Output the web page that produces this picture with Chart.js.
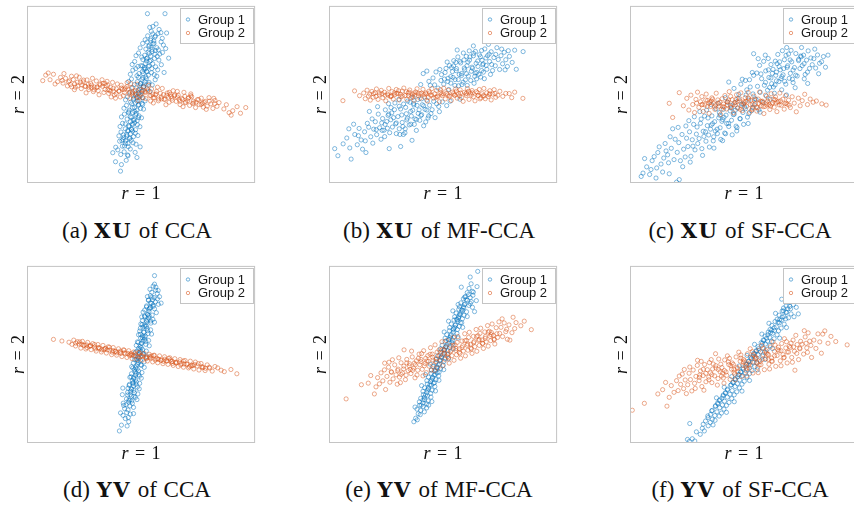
<!DOCTYPE html>
<html>
<head>
<meta charset="utf-8">
<script src="https://cdn.jsdelivr.net/npm/chart.js@4.4.1/dist/chart.umd.min.js"></script>
<style>
  html, body { margin: 0; padding: 0; background: #fff; }
  body { width: 854px; height: 506px; position: relative; overflow: hidden; }
  canvas { position: absolute; }
  .cap { position: absolute; transform: translateX(-50%); white-space: nowrap;
         font: 23px "Liberation Serif", "Times New Roman", serif; line-height: 22px; color: #111; word-spacing: 1px; }
  .cap b { font-family: "DejaVu Serif", serif; font-size: 21px; letter-spacing: 1.5px; }
</style>
</head>
<body>
<canvas id="c0" width="251" height="204"></canvas>
<canvas id="c1" width="251" height="204"></canvas>
<canvas id="c2" width="251" height="204"></canvas>
<canvas id="c3" width="251" height="204"></canvas>
<canvas id="c4" width="251" height="204"></canvas>
<canvas id="c5" width="251" height="204"></canvas>
<script>
// values, in percent of each panel's box (x left->right, y bottom->top)
const groupLabels = ["Group 1", "Group 2"];
const captions = [
  ["(a) ", "XU", " of CCA"], ["(b) ", "XU", " of MF-CCA"], ["(c) ", "XU", " of SF-CCA"],
  ["(d) ", "YV", " of CCA"], ["(e) ", "YV", " of MF-CCA"], ["(f) ", "YV", " of SF-CCA"],
];

const xuCcaG1 = [[55.2,88.4],[57.9,86.7],[53.8,87.9],[56.6,89.8],[58.7,84.9],[54.5,85.6],
  [52.9,83.1],[56.1,82.4],[59.3,81.7],[54.2,80.6],[57.4,84.3],[51.8,80.9],[58.8,79.7],[55.6,80.2],
  [50.7,78.8],[53.4,77.1],[56.9,76.4],[59.8,77.9],[52.1,75.6],[55.3,78.5],[57.6,75.2],[54.4,76.7],[49.6,76.3],[60.8,75.9],
  [48.9,73.4],[51.6,72.1],[54.8,74.2],[57.1,71.5],[59.4,73.7],[52.7,70.6],[55.9,70.3],[50.3,71.1],[58.2,72.8],[53.6,73.1],[56.3,74.8],[47.8,71.9],
  [47.2,68.6],[49.9,66.2],[52.4,68.9],[55.1,67.3],[57.8,69.4],[50.8,69.7],[53.7,66.1],[56.4,65.6],[46.1,66.9],[58.9,66.8],[51.5,65.2],[54.3,69.2],[48.6,65.8],
  [46.4,63.7],[49.1,61.8],[51.9,64.4],[54.6,62.3],[57.3,63.9],[48.2,60.6],[50.6,62.9],[53.2,60.9],[55.8,61.2],[45.3,61.4],[52.5,63.1],[56.9,60.3],[47.7,64.6],
  [45.8,58.7],[48.4,57.2],[50.9,59.4],[53.5,56.8],[56.2,58.3],[47.1,55.6],[49.7,56.1],[52.3,58.9],[54.9,55.4],[44.6,57.3],[51.4,55.9],
  [46.3,53.8],[48.8,52.4],[51.2,54.6],[53.9,51.7],[45.2,51.3],[47.6,50.8],[50.1,51.9],[52.6,53.2],[49.4,54.9],
  [44.1,48.7],[46.7,47.3],[49.2,49.1],[51.8,46.4],[45.4,45.6],[48.3,46.2],[50.6,48.2],[47.5,49.7],[43.2,46.9],
  [43.6,43.8],[46.2,42.6],[48.9,44.3],[51.1,41.7],[44.8,41.1],[47.3,40.4],[49.8,42.1],[42.5,42.2],[45.9,44.7],[50.4,44.9],
  [42.7,38.9],[45.3,37.4],[47.9,39.3],[50.2,36.8],[43.9,36.1],[46.6,35.5],[49.1,37.9],[41.4,37.3],[44.5,39.6],[48.3,35.2],
  [41.9,33.7],[44.6,32.4],[47.2,34.1],[49.5,31.8],[43.1,30.6],[45.8,30.2],[48.4,32.9],[40.8,31.9],[46.1,33.3],
  [41.2,28.8],[43.7,27.5],[46.3,29.2],[48.6,26.8],[42.4,25.7],[45.1,25.3],[47.5,28.1],[40.3,26.6],[44.2,29.7],
  [40.6,23.6],[43.2,22.4],[45.7,24.1],[47.8,21.9],[41.8,20.8],[44.4,20.5],[42.1,24.6],[46.5,22.7],
  [39.8,18.7],[42.6,17.6],[45.3,19.2],[41.1,16.1],[44.1,15.8],[47.4,17.3],[38.9,20.2],
  [52.8,95.6],[60.5,95.6],[38.8,12],[41.4,10.4],[41,6.7],[44.3,15.4],[48.2,14.4],[37.6,17.1],[61.2,84.7],[62.1,70.5],[43.5,12.8],[49.6,20.4],[60.1,62.4]];
const xuCcaG1Core = [[55.1,84.2],[54.3,81.5],[55.7,78.9],[53.6,77.8],[54.9,75.4],[53.1,73.9],[54.2,71.6],[52.4,70.2],[53.8,68.7],[51.9,67.4],[53.2,65.9],[51.3,64.3],[52.6,62.8],[50.9,61.7],[52.1,59.9],[50.4,58.6],[51.7,57.2],[49.8,56.1],[51.1,54.3],[49.3,53.2],[50.6,51.7],[48.8,50.6],[49.9,49.3],[48.1,48.1],[49.4,46.7],[47.6,45.2],[48.8,43.9],[47.1,42.6],[48.2,41.2],[46.4,39.8],[47.7,38.5],[45.9,37.1],[47.1,35.8],[45.3,34.6],[46.5,33.1],[44.8,31.8],[45.9,30.4],[44.2,29.2],[45.4,27.8],[43.7,26.5],[44.9,25.1],[43.2,23.8],[44.3,22.3],[42.7,20.9],[56.3,83.1],[52.7,79.6],[56.1,72.8],[50.6,66.1],[54.7,64.6],[48.9,59.7],[53.4,55.8],[46.8,47.9],[50.7,44.3],[44.6,40.2],[48.9,36.9],[43.1,33.4],[47.6,30.1],[42.3,27.2],[46.7,26.2],[41.6,23.9]];
const xuCcaG2 = [[8.2,60.9],[10.1,58.3],[11.6,61.4],[13.4,57.2],[14.7,59.6],[12.3,55.9],
  [15.8,56.4],[16.9,59.1],[17.7,54.8],[18.6,57.7],[19.5,60.3],[16.2,61.8],[19.1,55.6],
  [20.3,58.4],[21.2,54.1],[22.1,56.9],[22.9,59.7],[23.8,53.3],[24.6,57.1],[21.7,60.5],[24.1,55.4],[20.8,52.7],
  [25.4,54.6],[26.3,58.2],[27.1,52.8],[27.9,56.3],[28.7,59.1],[29.5,54.2],[26.8,55.7],[29.1,51.6],[25.9,50.9],[28.2,53.9],
  [30.4,57.6],[31.2,52.2],[32.1,55.4],[32.9,58.3],[33.7,51.1],[34.6,54.9],[31.6,49.8],[30.8,54.3],[33.3,56.2],[34.2,52.8],[35.1,57.4],
  [35.8,50.6],[36.7,54.1],[37.5,56.8],[38.3,49.7],[39.2,53.2],[36.1,52.4],[37.9,51.7],[39.6,55.9],[38.8,47.9],[36.9,48.6],[35.4,55.3],
  [40.4,51.8],[41.3,55.2],[42.2,49.3],[43.1,53.6],[43.9,56.7],[44.7,50.4],[41.8,52.9],[40.9,48.6],[42.7,51.1],[44.3,53.1],[45.1,47.8],
  [45.8,53.7],[46.6,49.1],[47.5,52.4],[48.3,55.8],[49.1,48.2],[46.2,51.3],[47.9,50.2],[49.6,52.9],[48.7,46.5],[45.5,56.1],
  [50.4,50.7],[51.2,54.3],[52.1,47.6],[52.9,51.8],[53.8,49.4],[54.6,53.1],[50.9,48.2],[51.7,51.6],[53.3,55.2],[54.2,46.3],[55.1,50.2],
  [55.9,48.1],[56.8,51.7],[57.6,46.4],[58.5,50.6],[59.3,53.4],[56.3,49.8],[57.2,54.1],[58.9,47.5],[59.8,49.9],[55.4,45.2],
  [60.6,47.3],[61.5,50.8],[62.3,45.6],[63.2,48.9],[64.1,52.1],[60.9,44.2],[62.8,50.1],[63.7,46.7],[64.6,49.2],[61.9,48.4],
  [65.4,46.1],[66.3,49.6],[67.1,44.3],[67.9,47.8],[68.8,51.2],[69.6,45.7],[66.7,47.2],[68.4,43.1],[65.9,51.7],[69.2,48.9],
  [70.4,46.4],[71.3,43.8],[72.2,48.7],[73.1,45.2],[73.9,42.6],[74.7,47.1],[71.8,50.3],[72.6,44.9],[70.9,48.2],
  [75.5,44.3],[76.4,47.9],[77.3,42.8],[78.1,46.1],[79.0,43.4],[79.8,48.2],[76.9,45.1],[78.6,41.6],
  [80.6,44.7],[81.5,42.1],[82.4,46.6],[83.3,43.3],[84.2,45.4],[81.9,47.8],
  [86.3,41.8],[87.4,44.2],[88.6,39.7],[90.2,40.8],[92.1,43.1],[93.6,39.4],[95.9,42.6],[89.5,38.3],[6.9,57.8],[9.3,62.1]];
const xuCcaG2Core = [[15.4,57.9],[18.2,57.1],[20.9,55.9],[23.4,56.8],[25.7,54.6],[28.3,55.3],[30.6,53.8],[33.1,54.6],[35.5,52.7],[37.8,53.5],[40.2,51.9],[42.6,52.7],[44.9,51.1],[47.3,51.8],[49.6,50.2],[51.9,51.1],[54.3,49.4],[56.6,50.3],[58.9,48.6],[61.3,49.5],[63.6,47.9],[65.9,48.6],[68.2,47.1],[70.6,47.8],[72.9,46.2],[75.2,47.1],[77.6,45.5],[79.9,46.2],[82.3,44.8],[19.6,54.3],[24.8,58.1],[29.4,52.6],[34.2,56.2],[39.1,50.5],[43.8,54.4],[48.4,48.9],[53.1,52.6],[57.7,47.4],[62.4,51.2],[67.1,46.2],[71.8,49.3],[76.4,44.4],[27.1,54.1],[36.6,51.8],[46.1,50.4],[55.4,48.1],[64.8,49.7],[74.1,45.6],[31.9,55.9],[41.4,53.6],[50.8,52.4],[60.1,47.2],[69.4,45.3],[22.2,54.8]];

const xuMfG1 = [[2.5,19.4],[3.9,15.4],[9.7,13.5],[8.7,30.6],[6.2,22.1],[7.8,25.4],[9.1,19.8],
  [11.3,27.4],[12.4,21.6],[13.2,30.8],[14.1,24.3],[10.8,33.2],[14.7,19.1],[12.9,26.7],
  [15.6,28.9],[16.2,17.2],[16.8,33.7],[17.7,40.4],[18.3,26.1],[18.9,36.2],[19.6,30.4],[15.9,23.8],[19.2,22.5],[17.4,31.5],
  [20.3,34.6],[20.9,27.3],[21.6,38.9],[22.2,31.2],[22.8,24.7],[23.5,36.4],[24.1,29.8],[24.7,41.3],[21.3,43.1],[23.1,33.9],[24.4,26.2],[20.7,30.1],
  [25.3,34.7],[25.9,38.2],[26.4,19.4],[26.6,28.4],[27.2,42.6],[27.8,31.6],[28.3,36.9],[28.9,45.2],[29.5,27.9],[26.1,44.8],[29.2,33.4],[27.5,39.6],[25.6,30.9],
  [30.2,37.5],[30.8,30.6],[31.4,20.6],[31.4,41.8],[32.1,34.2],[32.7,44.6],[33.3,28.3],[33.9,39.1],[34.5,46.3],[30.6,47.2],[32.4,31.9],[34.1,35.6],[33.6,42.7],[31.1,27.4],
  [35.2,32.8],[35.8,40.4],[36.4,24.1],[37.1,44.9],[37.7,36.2],[38.3,29.7],[38.9,47.1],[39.5,41.3],[36.1,37.8],[37.4,33.1],[38.6,43.8],[39.8,35.4],[35.5,45.6],[36.8,48.3],
  [40.3,38.1],[40.9,44.2],[41.5,32.3],[42.1,41.6],[41.3,61.8],[42.8,46.8],[43.4,36.7],[44.1,43.9],[44.7,39.2],[40.6,47.5],[42.4,34.5],[43.8,57.4],[42.9,63.2],[44.4,55.1],[40.2,55.6],
  [45.2,41.4],[45.9,46.1],[46.5,36.9],[47.2,44.7],[47.8,53.6],[48.4,40.3],[49.1,57.9],[49.7,45.8],[45.6,59.3],[46.9,62.7],[48.6,64.1],[46.3,55.4],[49.3,61.2],[48.1,43.2],
  [50.3,55.8],[50.9,62.4],[51.6,43.7],[52.2,59.1],[52.8,66.3],[53.4,56.4],[54.1,62.9],[54.7,69.1],[51.3,64.7],[53.1,46.2],[50.6,58.7],[52.5,52.8],[54.4,59.6],[51.8,68.3],[53.7,65.2],
  [55.3,58.4],[55.9,64.6],[56.5,71.2],[57.1,61.3],[57.7,67.8],[58.3,55.6],[58.9,73.4],[59.5,63.9],[55.6,68.1],[56.8,54.9],[58.1,60.7],[59.2,69.5],[57.4,47.3],[56.2,75.1],[59.8,58.2],
  [60.3,61.7],[60.9,68.3],[61.5,74.6],[62.1,57.9],[62.7,65.4],[63.3,71.8],[63.3,77.4],[63.9,60.2],[64.5,67.6],[60.6,55.1],[61.8,71.2],[63.6,56.3],[64.2,74.3],[62.4,63.1],[64.8,62.4],
  [65.3,65.8],[65.9,72.4],[66.5,59.8],[67.1,69.3],[67.7,62.6],[68.3,75.7],[68.9,66.4],[69.5,71.9],[69.9,78.3],[65.7,61.4],[66.9,74.8],[68.1,58.9],[69.2,64.2],[67.4,66.7],
  [70.4,68.6],[71.1,74.1],[71.7,63.5],[72.3,70.8],[72.9,66.2],[73.6,76.4],[74.2,69.7],[74.8,64.1],[70.8,61.3],[73.1,72.6],[75.7,75.6],
  [75.4,71.9],[76.1,67.3],[76.8,73.8],[77.5,69.6],[78.2,65.8],[79.1,71.5],[80.3,68.1],[81.4,75],[78.6,74.7],[77.2,63.9],[82.1,64.2],[85.1,74.2]];
const xuMfG1Core = [[53.4,60.1],[55.8,63.4],[58.1,61.8],[60.5,66.2],[62.9,64.7],[65.2,68.9],[67.6,67.3],[56.7,58.4],[59.3,64.9],[61.6,69.4],[64.1,62.1],[66.4,71.3],[68.8,70.6],[54.6,66.1],[57.4,68.7],[63.4,73.2],[70.2,72.8],[58.8,56.9],[61.1,60.4],[66.9,63.5],[52.1,57.3],[55.2,55.1],[71.3,66.9],[60.2,71.5],[64.7,58.8],
  [24.6,33.1],[27.1,35.7],[29.5,33.9],[31.9,38.4],[34.3,36.6],[36.7,41.1],[39.1,39.3],[41.5,43.6],[26.2,38.9],[28.7,41.4],[33.4,30.6],[35.9,33.2],[38.3,35.8],[40.6,38.6],[42.9,41.2],[30.8,43.3],[37.2,44.1],[23.3,29.7],[32.6,27.4],[43.7,37.9]];
const xuMfG2 = [[6.1,46.5],[11.2,52],[13.4,49.3],[15.2,50.8],[15.9,47.6],[16.7,52.4],[17.3,49.1],[18.1,46.8],[18.8,51.7],[19.4,48.4],[20.2,50.9],[20.8,53.1],[21.5,47.2],[22.1,49.8],[22.9,52.3],[23.6,48.1],[24.3,51.2],[24.9,46.4],[25.6,50.3],[26.2,53.4],[26.9,48.8],[27.6,51.6],[28.2,47.4],[28.9,49.9],[29.5,52.8],[30.2,50.6],[30.8,46.9],[31.5,48.7],[32.1,51.9],[32.8,53.6],[33.4,49.4],[34.1,47.3],[34.7,50.8],[35.4,52.5],[36.0,48.2],[36.7,50.1],[37.3,46.7],[38.0,51.4],[38.6,53.2],[39.3,49.2],[39.9,47.8],[40.6,50.7],[41.2,52.9],[41.9,48.5],[42.5,50.3],[43.2,46.3],[43.8,51.8],[44.5,49.6],[45.1,53.3],[45.8,47.9],[46.4,50.4],[47.1,52.2],[47.7,48.6],[48.4,45.9],[49.0,51.1],[49.7,49.3],[50.3,53.5],[51.0,47.5],[51.6,50.6],[52.3,52.4],[52.9,48.9],[53.6,46.6],[54.2,51.3],[54.9,49.7],[55.5,53.1],[56.2,47.9],[56.8,50.5],[57.5,52.6],[58.1,48.3],[58.8,46.1],[59.4,51.2],[60.1,49.4],[60.7,53.3],[61.4,47.2],[62.0,50.8],[62.7,52.2],[63.3,48.7],[64.0,46.4],[64.6,51.6],[65.3,49.5],[65.9,52.8],[66.6,48.1],[67.2,50.4],[67.9,53.4],[68.5,47.6],[69.2,50.9],[69.8,48.8],[70.5,52.1],[71.1,46.9],[71.8,50.2],[72.4,52.7],[73.1,48.4],[74.0,49.5],[74.9,51.8],[76.2,48.9],[77.5,50.6],[79.0,50.5],[80.1,48.2],[81.4,51.3],[85.0,47.8],
  [17.9,50.2],[20.6,48.9],[23.2,50.4],[25.9,49.6],[28.6,50.8],[31.3,50.1],[33.9,51.5],[36.4,49.1],[39.1,50.6],[41.7,49.9],[44.2,50.9],[46.9,48.4],[49.4,50.2],[52.0,49.7],[54.6,50.5],[57.2,49.2],[59.9,50.3],[62.4,49.6],[65.1,50.9],[67.6,49.3],[70.2,49.9],[72.8,50.6],[30.5,52.1],[37.6,49.6],[43.5,48.3],[48.8,52.7],[55.8,51.9],[61.2,51.8],[66.2,47.5],[27.3,48.9],[35.1,51.3]];
const xuMfG2Core = [[19.5,50.4],[24.6,49.5],[29.7,50.6],[34.8,49.4],[39.9,50.5],[45.0,49.6],[50.1,50.4],[55.2,49.5],[60.3,50.7],[65.4,49.4],[70.5,50.4],[22.1,50.9],[32.2,49.1],[42.4,50.9],[52.6,49.2],[62.8,50.9],[27.2,49.2],[37.3,50.8],[47.5,49.1],[57.7,50.8],[67.9,49.1]];

const xuSfG1 = [[4.9,3.7],[5.7,5.6],[9.7,12.6],[7.3,9.1],[8.6,4.8],[6.4,13.8],[9.2,7.6],
  [11.4,2.8],[13.6,10.7],[12.2,17.2],[10.6,14.9],[14.3,6.2],[12.8,20.4],[14.8,14.1],[11.7,8.5],
  [16.5,15.9],[17.2,5.2],[18.7,30.6],[15.4,22.3],[16.9,11.4],[18.1,19.6],[19.3,13.2],[19.8,24.7],[15.8,18.1],[17.6,26.1],
  [20.4,0.5],[21.6,1.9],[20.7,17.3],[21.4,22.8],[22.1,12.6],[22.8,27.4],[23.5,19.1],[24.2,14.7],[24.8,25.3],[21.1,31.4],[23.1,9.2],[24.5,32.2],
  [25.4,20.6],[26.1,28.9],[26.7,15.1],[27.3,24.4],[27.9,33.1],[28.5,18.7],[29.1,27.6],[29.7,22.3],[25.8,35.2],[26.4,11.8],[28.2,37.4],[29.4,31.6],[27.6,20.8],
  [30.3,25.1],[30.9,33.7],[31.5,19.4],[32.1,29.2],[32.7,37.8],[33.3,23.6],[33.9,32.4],[34.5,27.1],[30.6,40.3],[31.8,15.6],[33.6,41.2],[34.8,20.3],[32.4,26.3],[31.2,36.1],
  [35.3,30.4],[35.9,37.9],[36.5,23.8],[37.1,34.6],[37.7,41.8],[38.3,27.9],[38.9,36.8],[39.5,31.2],[35.6,44.3],[36.8,19.7],[38.6,45.1],[39.8,24.6],[37.4,29.3],[36.2,33.5],[39.2,39.7],
  [40.3,34.8],[40.9,41.6],[41.5,28.2],[42.1,38.3],[42.7,45.6],[43.3,31.9],[43.9,40.7],[44.5,35.4],[40.6,23.9],[41.8,48.2],[43.3,57],[44.8,27.2],[42.4,33.6],[41.2,37.1],[44.1,43.8],
  [45.3,38.6],[45.9,45.4],[46.5,32.1],[47.1,42.3],[47.7,50.1],[48.3,36.2],[48.9,44.6],[49.5,39.8],[45.6,53.4],[46.8,29.4],[48.6,55.8],[49.8,33.1],[47.4,47.7],[46.2,41.1],[49.2,58.6],
  [50.3,42.9],[50.9,49.7],[51.5,37.2],[52.1,46.8],[52.7,54.2],[53.3,40.8],[53.9,50.3],[54.5,44.1],[50.6,57.9],[51.8,33.6],[54.2,60.8],[52.4,58.3],[53.6,62.4],[51.2,52.6],[54.8,47.6],
  [55.3,47.1],[55.9,54.6],[56.5,41.3],[57.1,51.2],[57.7,58.9],[57,40],[58.3,45.5],[58.9,55.2],[59.5,63.3],[55.6,62.1],[56.8,66.4],[58.6,68.7],[59.8,49.1],[57.4,61.6],[56.2,70.2],[59.3,72.2],[54.2,73],
  [60.3,52.4],[60.9,59.6],[61.5,47.3],[62.1,56.1],[62.7,64.2],[63.3,50.7],[63.9,60.8],[64.5,67.4],[60.6,70.3],[61.8,66.9],[63.6,55.4],[64.8,72.6],[62.4,61.9],[61.2,53.9],[64.2,57.7],
  [65.3,57.3],[65.9,63.9],[66.5,52.6],[67.1,61.1],[67.7,69.6],[68.3,55.8],[68.7,76.5],[68.9,65.3],[69.5,72.8],[65.6,68.4],[66.8,74.7],[69.8,59.1],[67.4,64.6],[66.2,58.9],[68.6,49.7],
  [70.3,61.9],[70.9,68.4],[71.5,56.7],[72.1,65.2],[72.7,73.1],[73.3,60.4],[73.9,69.8],[74.5,64.6],[75.2,76.5],[70.6,74.9],[72.4,53.8],[74.8,71.7],[71.2,58.6],
  [75.5,66.3],[76.1,72.2],[76.8,61.3],[77.4,69.4],[78.1,74.6],[78.7,64.7],[79.3,70.6],[79.9,66.8],[81,75.6],[76.4,58.8],[77.9,56.2],
  [80.6,70.2],[81.4,64.9],[82.2,72.3],[83.1,67.6],[84,68.5],[84.8,71.4],[85.7,65.4],[86.8,72.2],[82.7,61.7]];
const xuSfG1Core = [[59.4,56.8],[61.8,59.3],[64.2,62.6],[66.6,60.1],[69.1,66.2],[71.5,63.8],[73.9,69.1],[76.3,67.4],[62.9,54.2],[65.4,65.7],[67.8,57.4],[70.2,69.5],[72.6,60.9],[75.1,71.3],[60.7,63.9],[77.8,62.6],[63.7,68.8],[68.4,72.1],
  [33.1,28.9],[35.6,32.7],[38.2,30.4],[40.7,35.8],[43.2,33.6],[45.7,38.9],[48.2,36.4],[50.6,41.9],[36.7,26.1],[39.4,38.2],[41.9,27.8],[44.4,42.3],[46.9,31.3],[49.5,44.6],[52.1,39.1],[34.2,36.7],[53.8,42.7]];
const xuSfG2 = [[17.2,45],[18.7,37],[21.6,51],[23.4,43.6],[24.9,47.8],[25.8,41.2],[26.7,49.6],[27.5,44.3],[28.3,39.8],[28.9,47.2],[29.6,51.3],[30.2,42.7],[30.9,45.9],[31.5,48.8],[32.1,40.4],[32.8,44.1],[33.4,50.2],[34.0,46.6],[34.7,39.3],[35.3,43.2],[35.9,48.1],[36.6,45.2],[37.2,41.6],[37.8,50.7],[38.5,46.9],[39.1,43.4],[39.7,38.7],[40.4,47.6],[41.0,44.6],[41.6,49.4],[42.3,41.8],[42.9,45.7],[43.5,51.6],[44.2,43.1],[44.8,47.1],[45.4,39.6],[46.1,45.3],[46.7,49.8],[47.3,42.4],[48.0,46.4],[48.6,50.9],[49.2,40.8],[49.9,44.6],[50.5,48.2],[51.1,43.3],[51.8,51.2],[52.4,39.9],[53.0,46.7],[53.7,42.1],[54.3,49.1],[54.9,44.8],[55.6,40.6],[56.2,47.4],[56.8,51.4],[57.5,43.6],[58.1,46.2],[58.7,39.2],[59.4,49.6],[60.0,44.1],[60.6,47.9],[61.3,41.5],[61.9,50.4],[62.5,45.4],[63.2,42.8],[63.8,48.6],[64.4,40.3],[65.1,46.1],[65.7,50.8],[66.3,43.9],[67.0,47.3],[67.6,41.7],[68.2,49.3],[68.9,44.5],[69.5,46.8],[70.3,42.6],[71.1,48.7],[72.0,45.1],[72.9,40.2],[73.8,47.9],[74.6,43.6],[75.5,46.5],[76.6,50.1],[77.8,44.3],[79.0,47.4],[80.3,45.6],[81.7,46.3],[84.1,44.7],[86,44],
  [29.2,45.1],[31.8,44.4],[33.9,43.2],[35.6,46.3],[37.5,44.2],[39.4,45.6],[41.3,42.9],[43.2,46.8],[45.1,44.3],[47.0,45.9],[48.9,43.7],[50.8,46.1],[52.7,44.2],[54.6,46.8],[56.5,44.9],[58.4,43.1],[60.3,46.3],[62.2,44.6],[64.1,45.2],[66.0,46.4],[67.9,44.8],[69.8,43.9],[36.2,47.4],[40.1,41.7],[44.1,48.9],[48.3,41.6],[52.1,47.6],[55.9,42.4],[59.8,45.2],[63.6,47.1],[42.6,44.1],[50.2,45.3],[57.8,45.8],[65.4,44.1],[34.6,45.1],[61.6,43.4],[46.5,47.2],[53.5,41.3]];
const xuSfG2Core = [[31.4,44.2],[35.1,45.6],[38.8,44.8],[42.5,45.9],[46.2,44.1],[49.9,45.8],[53.6,44.6],[57.3,46.2],[61.0,44.3],[64.7,45.7],[68.4,45.1],[33.2,46.9],[40.6,43.1],[48.1,47.6],[55.5,42.9],[62.9,47.4],[44.3,42.6],[51.8,48.1],[59.2,43.2],[37.1,42.9]];

const yvCcaG1 = [[55.3,88.6],[56.4,86.3],[54.7,85.1],[57.1,84.4],[55.9,89.7],[53.9,86.8],
  [54.1,83.2],[55.8,82.1],[57.2,81.4],[53.3,80.6],[56.3,79.7],[54.6,78.8],[52.8,82.7],[55.1,80.9],[57.6,78.3],
  [52.4,77.4],[54.2,76.6],[55.9,75.8],[51.6,75.1],[53.5,74.3],[56.7,73.6],[52.9,72.8],[54.9,72.2],[50.9,73.9],[55.3,77.9],[53.8,76.1],
  [51.7,71.3],[53.4,70.6],[55.2,69.8],[50.6,69.1],[52.5,68.4],[54.3,67.7],[49.9,67.2],[51.8,66.5],[53.6,71.8],[55.9,68.2],[52.9,69.5],[50.3,71.2],
  [50.8,65.4],[52.6,64.7],[54.2,63.9],[49.4,63.2],[51.3,62.6],[53.1,61.8],[48.9,61.1],[50.7,60.4],[52.4,65.9],[54.6,61.5],[51.9,60.2],[49.7,64.8],
  [49.8,59.3],[51.6,58.6],[53.3,57.9],[48.4,57.1],[50.3,56.4],[52.1,55.7],[47.9,55.1],[49.6,54.5],[51.4,59.8],[53.6,54.9],[50.9,57.5],
  [48.9,53.4],[50.7,52.7],[52.3,51.9],[47.5,51.2],[49.4,50.5],[51.2,49.8],[46.9,49.1],[48.6,48.4],[50.1,53.8],[52.6,48.7],[49.9,51.6],
  [47.9,47.3],[49.7,46.6],[51.3,45.8],[46.6,45.1],[48.4,44.5],[50.2,43.8],[45.9,43.1],[47.6,42.4],[49.1,47.9],[51.4,42.7],[48.8,45.5],
  [47.1,41.3],[48.9,40.6],[50.4,39.8],[45.8,39.1],[47.6,38.4],[49.3,37.7],[45.1,37.1],[46.8,36.4],[48.3,41.8],[50.1,36.6],[47.9,39.4],
  [46.2,35.2],[47.9,34.5],[49.4,33.7],[44.9,33.1],[46.7,32.4],[48.4,31.6],[44.3,30.9],[45.9,30.3],[47.6,35.8],[49.2,30.6],[46.6,33.9],
  [45.4,29.2],[47.1,28.4],[48.6,27.7],[44.1,27.1],[45.8,26.4],[47.5,25.7],[43.6,24.9],[45.1,24.3],[46.8,29.7],[48.2,24.5],
  [44.6,23.1],[46.2,22.4],[43.4,21.6],[45.1,20.9],[46.7,20.1],[42.8,19.4],[44.3,18.7],[45.9,23.7],[42.2,22.5],
  [43.7,17.2],[45.3,16.3],[42.1,15.6],[44.4,14.4],[46.7,16.6],[41,17],
  [55.9,94.5],[56.5,88],[58.8,79],[42,31],[42.4,21.2],[43.1,13.8],[40.5,6.8],[44.6,12],[57.5,86.1],[58.1,82.6],[41.8,27.3],[41.4,10.1],[43.9,9.6]];
const yvCcaG1Core = [[54.8,82.3],[54.1,79.1],[53.6,75.6],[52.9,72.4],[52.3,69.1],[51.7,65.8],[51.2,62.6],[50.6,59.4],[50.1,56.2],[49.5,53.1],[49.1,49.8],[48.5,46.6],[47.9,43.4],[47.4,40.2],[46.8,36.9],[46.3,33.8],[45.7,30.6],[45.2,27.3],[44.6,24.1],[53.2,80.7],[52.4,76.8],[51.5,71.7],[50.5,66.8],[49.7,61.4],[48.8,56.8],[48.2,51.9],[47.2,47.1],[46.4,42.3],[45.6,37.4],[44.8,32.5],[44.1,28.6],[55.4,77.2],[54.2,68.9],[52.9,63.4],[52.1,57.3],[50.8,50.4],[49.9,44.2],[48.9,38.6],[47.8,33.1],[46.9,26.4]];
const yvCcaG2 = [[11.6,58.5],[15.3,57.6],[18.4,56.9],[19.7,55.7],[20.5,58.1],[21.3,54.8],[22.1,57.2],[22.8,55.9],[23.6,53.6],[24.3,57.4],[25.1,55.2],[25.8,53.1],[26.6,56.8],[27.3,54.6],[28.1,52.7],[28.8,56.1],[29.6,54.2],[30.3,51.9],[31.1,55.6],[31.8,53.3],[32.6,51.4],[33.3,55.1],[34.1,53.2],[34.8,50.8],[35.6,54.3],[36.3,52.4],[37.1,49.9],[37.8,53.9],[38.6,51.7],[39.3,49.6],[40.1,53.2],[40.8,51.1],[41.6,48.8],[42.3,52.6],[43.1,50.4],[43.8,48.3],[44.6,52.1],[45.3,49.9],[46.1,47.6],[46.8,51.4],[47.6,49.3],[48.3,47.2],[49.1,51.2],[49.8,48.9],[50.6,46.8],[51.3,50.6],[52.1,48.5],[52.8,46.3],[53.6,50.1],[54.3,47.9],[55.1,45.8],[55.8,49.6],[56.6,47.5],[57.3,45.3],[58.1,49.2],[58.8,46.9],[59.6,44.8],[60.3,48.7],[61.1,46.4],[61.8,44.4],[62.6,48.1],[63.3,45.9],[64.1,43.8],[64.8,47.6],[65.6,45.4],[66.3,43.2],[67.1,47.1],[67.8,44.9],[68.6,42.8],[69.3,46.6],[70.1,44.5],[70.8,42.4],[71.6,46.2],[72.3,43.9],[73.1,41.8],[73.8,45.7],[74.6,43.5],[75.4,41.2],[76.3,44.9],[77.2,42.8],[78.1,40.9],[79.0,44.1],[80.1,42.3],[81.2,40.6],[82.4,43.2],[83.6,42.4],[85.1,41.1],[86.5,40.3],[89.4,41.5],[92,39.1],
  [23.9,55.8],[27.8,54.9],[31.5,53.9],[35.2,52.6],[38.9,51.8],[42.7,50.9],[46.4,49.8],[50.2,49.2],[53.9,48.1],[57.7,47.2],[61.4,46.3],[65.2,45.6],[68.9,44.6],[72.7,43.7],[76.8,42.5],[29.9,53.1],[33.7,52.7],[37.4,51.3],[41.2,50.6],[44.9,49.4],[48.7,48.6],[52.4,47.7],[56.2,46.8],[59.9,46.1],[63.7,44.9],[67.4,44.1],[71.2,43.1],[26.1,55.4],[45.6,50.5],[54.7,49.2],[62.9,46.9]];
const yvCcaG2Core = [[21.4,56.4],[24.7,55.2],[27.9,54.9],[31.2,53.7],[34.4,53.4],[37.7,52.2],[40.9,51.9],[44.2,50.6],[47.4,50.4],[50.7,49.1],[53.9,48.9],[57.2,47.6],[60.4,47.3],[63.7,46.1],[66.9,45.8],[70.2,44.5],[73.4,44.3],[76.7,43.1],[79.9,42.8],[23.1,57.1],[29.6,55.6],[36.1,54.1],[42.6,52.4],[49.1,50.9],[55.6,49.4],[62.1,47.8],[68.6,46.3],[75.1,44.8],[26.3,53.9],[32.8,52.6],[39.3,50.9],[45.8,49.6],[52.3,48.1],[58.8,46.6],[65.3,45.1],[71.8,43.6],[78.3,42.2]];

const yvMfG1 = [[61.4,87.3],[62.8,85.6],[60.6,84.9],[63.1,83.4],[59.8,82.6],[61.9,82.1],
  [58.9,81.4],[60.7,80.6],[62.4,79.8],[57.8,79.1],[59.6,78.4],[61.3,77.7],[57.2,76.9],[59.1,76.3],[62.9,76.6],[56.6,78.2],
  [56.9,75.5],[58.6,74.8],[60.3,74.1],[55.7,73.4],[57.4,72.7],[59.2,72.1],[55.1,71.3],[56.8,70.6],[58.5,70.2],[60.6,71.4],[54.3,74.6],[57.9,73.9],
  [54.8,69.4],[56.5,68.6],[58.2,67.9],[53.6,67.2],[55.3,66.5],[57.1,65.8],[52.9,65.2],[54.6,64.5],[56.3,64.1],[58.6,65.3],[52.4,68.8],[55.9,69.9],
  [52.8,63.4],[54.5,62.6],[56.1,61.9],[51.6,61.2],[53.3,60.5],[55.0,59.8],[50.9,59.2],[52.6,58.5],[54.3,58.1],[56.6,59.3],[50.5,62.7],
  [50.9,57.4],[52.6,56.6],[54.2,55.9],[49.6,55.2],[51.3,54.5],[52.9,53.8],[48.9,53.2],[50.6,52.5],[52.2,52.1],[54.5,53.2],
  [48.8,51.3],[50.5,50.6],[52.1,49.9],[47.6,49.2],[49.3,48.5],[50.9,47.8],[46.9,47.2],[48.6,46.6],[50.4,46.1],[52.4,47.5],
  [46.8,45.3],[48.5,44.6],[50.1,43.9],[45.6,43.2],[47.3,42.5],[48.9,41.8],[44.9,41.2],[46.6,40.6],[48.3,40.1],[50.3,41.4],[44.4,44.5],
  [44.8,39.3],[46.5,38.6],[48.1,37.9],[43.6,37.2],[45.3,36.5],[46.9,35.8],[42.9,35.2],[44.6,34.6],[46.3,34.1],[48.2,35.4],[42.3,38.6],[47.4,39.6],
  [43.1,33.3],[44.8,32.6],[46.4,31.9],[41.9,31.2],[43.6,30.5],[45.2,29.8],[41.2,29.2],[42.9,28.6],[44.6,28.1],[46.7,29.4],[40.6,32.4],[45.8,33.7],
  [41.4,27.3],[43.1,26.6],[44.7,25.9],[40.2,25.2],[41.9,24.5],[43.5,23.8],[39.6,23.2],[41.2,22.6],[42.9,22.1],[45.1,23.4],
  [39.7,21.3],[41.3,20.6],[42.8,19.8],[38.6,19.1],[40.2,18.4],[41.8,17.6],[39.1,16.5],[43.7,21.4],
  [65.2,96.9],[61.9,93.7],[62.3,89.9],[63.3,85.2],[58,88],[37.2,12],[38,14],[37.7,20.3],[64.6,80.4],[63.8,74.2],[40,16],[64.9,88.3],[38.7,13.1]];
const yvMfG1Core = [[61.2,83.8],[60.1,80.9],[59.3,78.1],[58.2,75.2],[57.4,72.4],[56.3,69.6],[55.5,66.7],[54.4,63.9],[53.6,61.1],[52.5,58.2],[51.7,55.4],[50.6,52.6],[49.8,49.8],[48.7,46.9],[47.9,44.1],[46.8,41.3],[46.1,38.4],[44.9,35.6],[44.2,32.8],[43.1,29.9],[42.3,27.1],[41.2,24.3],[40.4,21.4],[59.5,82.4],[58.9,76.9],[56.9,71.3],[55.1,65.2],[53.1,59.6],[51.2,54.1],[49.2,48.4],[47.3,42.8],[45.4,37.1],[43.6,31.4],[41.8,25.8],[61.9,78.8],[57.6,67.9],[53.9,56.8]];
const yvMfG2 = [[20.6,31.7],[21.3,36.9],[22.1,33.4],[22.8,39.6],[23.6,35.1],[24.3,41.3],[24.8,30.2],
  [25.4,37.6],[26.1,42.8],[26.7,34.3],[27.4,39.9],[27.8,47],[28.1,36.2],[28.8,44.1],[29.4,38.5],[29.9,33.2],[26.3,45.6],
  [30.3,41.7],[30.9,37.2],[31.6,45.3],[32.2,39.6],[32.9,52.6],[32.8,43.4],[33.5,35.8],[34.1,47.2],[34.7,40.9],[31.3,34.1],[33.8,38.3],[30.6,48.1],
  [35.3,44.8],[35.9,39.2],[36.5,48.6],[37.1,42.3],[37.7,36.8],[38.3,46.4],[38.9,41.1],[39.5,50.2],[36.2,51.9],[37.4,45.1],[38.6,38.4],[39.8,44.2],[35.6,41.6],
  [40.3,47.2],[40.9,41.6],[41.5,52.1],[42.1,44.9],[42.7,39.7],[43.3,49.3],[43.9,43.4],[44.5,53.8],[41.2,37.9],[42.4,47.8],[43.6,46.1],[44.8,41.2],[40.6,50.5],
  [45.3,50.2],[45.9,44.1],[46.5,55.4],[47.1,47.6],[47.7,42.3],[48.3,52.6],[48.9,46.4],[49.5,57.2],[46.2,40.9],[47.4,51.3],[48.6,49.7],[49.8,43.6],[45.6,46.9],
  [50.3,52.7],[50.9,47.2],[51.5,57.8],[52.1,50.4],[52.7,45.1],[53.3,55.1],[53.9,49.3],[54.5,59.6],[51.2,54.2],[52.4,48.1],[53.6,52.3],[54.8,46.7],[50.6,50.1],
  [55.3,55.4],[55.9,49.8],[56.5,60.1],[57.1,53.2],[57.7,47.9],[58.3,57.6],[58.9,51.9],[59.5,61.7],[56.2,56.8],[57.4,50.6],[58.6,54.9],[59.8,49.2],[55.6,52.3],
  [60.3,57.9],[60.9,52.4],[61.5,62.5],[62.1,55.7],[62.7,50.6],[63.3,60.2],[63.9,54.4],[64.5,64.1],[61.2,59.6],[62.4,53.1],[63.6,57.3],[64.8,51.8],[60.6,55.1],
  [65.3,60.6],[65.9,55.1],[66.5,64.8],[67.1,58.2],[67.7,53.4],[68.3,62.7],[68.9,57.1],[69.5,66.3],[66.2,61.9],[67.4,56.3],[68.6,60.1],[69.8,54.7],[65.6,57.9],
  [70.3,63.1],[70.9,57.8],[71.5,67.2],[72.1,60.7],[72.7,55.9],[73.3,65.1],[73.9,59.6],[74.5,68.4],[71.2,62.4],[72.4,58.3],[74.8,61.9],[70.6,60.2],
  [75.4,65.3],[76.1,60.1],[76.8,67.8],[77.5,62.9],[78.2,58.6],[79.3,58.1],[78.9,66.7],[75.9,70.1],[77.9,64.2],
  [7.5,24.9],[17.2,33.8],[19.9,27.7],[80.7,71],[88.7,64],[81.4,64.6],[82,68],[84.1,66.2],[18.3,38.1],[14.2,32.9],[24.4,45.1],[80.2,62.3],[85.6,68.8]];
const yvMfG2Core = [[30.1,40.9],[32.7,41.8],[35.2,43.6],[37.8,44.1],[40.3,45.9],[42.9,46.3],[45.4,48.4],[48.1,49.2],[50.6,50.9],[53.2,51.6],[55.7,53.4],[58.3,53.9],[60.8,55.9],[63.4,56.6],[65.9,58.4],[68.5,59.1],[71.1,61.2],[73.6,61.7],[34.1,45.2],[39.2,47.8],[44.3,50.1],[49.4,52.7],[54.5,55.1],[59.6,57.8],[64.7,60.1],[69.8,62.6],[31.6,38.7],[36.7,41.1],[41.8,43.6],[46.9,46.1],[52.0,48.7],[57.1,51.2],[62.2,53.6],[67.3,56.2],[72.4,58.7],[27.3,40.3]];

const yvSfG1 = [[69.8,79.4],[71.6,78.1],[68.4,77.3],[72.9,76.6],[70.4,75.8],[66.5,81.2],[73.8,72.9],[67.3,76.2],
  [66.7,74.5],[68.6,73.7],[70.6,72.9],[65.4,72.2],[67.5,71.4],[69.5,70.7],[64.5,69.9],[66.4,69.4],[71.9,71.3],[68.3,70.1],[63.8,73.2],
  [63.6,68.6],[65.5,67.9],[67.6,67.1],[62.2,66.4],[64.2,65.6],[66.3,64.9],[61.4,64.1],[63.3,63.5],[68.6,65.2],[65.1,63.3],[60.9,67.6],
  [60.6,62.6],[62.5,61.9],[64.5,61.1],[59.2,60.4],[61.2,59.6],[63.2,58.9],[58.4,58.1],[60.3,57.5],[65.6,59.2],[62.1,57.3],[57.8,61.5],
  [57.5,56.6],[59.4,55.9],[61.4,55.1],[56.1,54.4],[58.1,53.6],[60.1,52.9],[55.3,52.1],[57.2,51.5],[62.5,53.3],[59.1,51.3],[54.6,55.7],
  [54.2,50.6],[56.1,49.9],[58.1,49.1],[52.8,48.4],[54.8,47.6],[56.8,46.9],[51.9,46.1],[53.8,45.5],[59.2,47.2],[55.7,45.2],[51.3,49.5],
  [50.9,44.6],[52.8,43.9],[54.7,43.1],[49.5,42.4],[51.5,41.6],[53.5,40.9],[48.6,40.1],[50.5,39.5],[55.8,41.3],[52.4,39.2],[47.9,43.5],
  [47.5,38.6],[49.4,37.9],[51.3,37.1],[46.1,36.4],[48.1,35.6],[50.1,34.9],[45.2,34.1],[47.1,33.5],[52.4,35.3],[49.1,33.2],[44.6,37.5],
  [44.1,32.6],[46.1,31.9],[48.0,31.1],[42.8,30.4],[44.8,29.6],[46.8,28.9],[41.9,28.1],[43.8,27.5],[49.1,29.3],[45.7,27.2],[41.3,31.5],
  [40.8,26.6],[42.7,25.9],[44.6,25.1],[39.4,24.4],[41.4,23.6],[43.4,22.9],[38.6,22.1],[40.5,21.5],[45.7,23.3],[42.3,21.2],[37.9,25.5],
  [37.4,20.6],[39.3,19.9],[41.2,19.1],[36.1,18.4],[38.1,17.6],[40.1,16.9],[35.3,16.1],[37.2,15.5],[42.3,17.3],[39.1,15.2],
  [34.2,14.3],[36.1,13.4],[33.1,12.4],[35.2,11.6],[37.3,12.8],[32.1,10.6],[34.3,9.7],[31.7,8.3],[36.4,10.2],
  [29.1,6.3],[30.8,4.9],[26.2,11],[27.3,2.4],[26,0.9],[25.2,2],[28.4,1.1],[32.6,6.8]];
const yvSfG1Core = [[70.1,77.1],[68.4,73.9],[66.7,71.1],[64.9,68.2],[63.2,65.1],[61.6,62.3],[59.9,59.2],[58.1,56.4],[56.4,53.3],[54.7,50.5],[53.1,47.6],[51.3,44.5],[49.6,41.7],[47.9,38.6],[46.1,35.8],[44.4,32.9],[42.7,29.9],[40.9,27.1],[39.2,23.9],[37.5,21.1],[35.8,18.2],[34.1,15.3],[69.2,75.8],[65.6,69.6],[62.1,63.6],[58.7,57.9],[55.4,51.8],[52.1,46.1],[48.6,40.2],[45.1,34.2],[41.8,28.4],[38.4,22.6],[67.3,74.6],[60.4,61.1],[53.9,49.1],[47.2,37.4],[40.3,25.3]];
const yvSfG2 = [[12.2,27.7],[14.3,30.1],[16.2,20.8],[17.2,25.8],[18.1,32.4],[19.3,28.6],[15.6,34.2],
  [20.4,35.2],[21.6,37.8],[21.1,29.6],[22.2,33.1],[22.9,38.9],[23.8,41.5],[23.5,30.7],[24.2,35.6],[24.7,27.9],
  [25.3,32.9],[25.9,39.4],[26.5,35.8],[27.1,29.4],[27.7,41.2],[28.3,33.7],[28.9,37.6],[29.5,43.8],[29.6,46.7],[26.2,42.9],[28.6,30.8],
  [30.3,35.2],[30.9,40.7],[31.5,31.9],[32.1,38.1],[32.7,44.3],[33.3,34.6],[33.9,41.4],[34.5,37.2],[31.2,46.1],[32.4,29.8],[34.8,45.4],[30.6,38.4],
  [35.3,39.6],[35.9,34.1],[36.5,44.6],[37.1,37.9],[37.5,50.4],[37.7,42.3],[38.3,32.7],[38.9,47.4],[39.5,40.2],[36.2,41.8],[38.6,36.4],[39.8,44.5],[35.6,47.1],
  [40.3,42.6],[40.9,36.7],[41.5,46.9],[42.1,40.1],[42.7,49.2],[43.3,44.3],[43.9,35.9],[44.5,41.7],[41.2,33.8],[42.4,38.2],[43.6,47.8],[44.8,45.2],[40.6,39.5],
  [45.3,44.4],[45.9,38.9],[46.5,48.6],[47.1,42.1],[47.7,51.3],[48.3,46.2],[48.9,37.6],[49.5,43.8],[46.2,35.7],[47.4,40.3],[48.6,49.7],[49.8,47.1],[45.6,41.5],
  [50.3,46.3],[50.9,40.8],[51.5,50.4],[52.1,44.1],[52.7,53.2],[53.3,48.1],[53.9,39.5],[54.5,45.6],[51.2,37.8],[52.4,42.3],[53.6,51.6],[54.8,48.9],[50.6,43.4],
  [55.3,48.2],[55.9,42.6],[56.5,52.4],[57.1,46.1],[57.7,55.1],[58.3,49.9],[58.9,41.4],[59.5,47.5],[56.2,39.7],[57.4,44.2],[58.6,53.4],[59.8,50.8],[55.6,45.3],
  [60.3,50.1],[60.9,44.5],[61.5,54.3],[62.1,48.0],[62.7,57.1],[63.3,51.8],[63.9,43.3],[64.5,49.4],[61.2,41.8],[62.4,46.1],[63.6,55.3],[64.8,52.7],[60.6,47.2],
  [65.3,52.0],[65.9,46.4],[66.5,56.2],[67.1,49.9],[67.7,58.9],[68.3,53.7],[68.9,45.2],[69.5,51.3],[66.2,43.6],[67.4,48.1],[68.6,57.2],[69.8,54.6],
  [70.3,53.9],[70.9,48.3],[71.5,58.1],[72.1,51.8],[72.3,41.1],[72.7,60.8],[73.3,55.6],[73.9,47.1],[74.5,53.2],[71.2,45.6],[74.8,57.4],
  [75.4,55.8],[76.1,50.2],[76.8,59.9],[77.5,53.7],[78.1,62.2],[78.8,57.5],[79.6,48.3],[79.3,55.1],[76.4,63.4],[77.8,51.2],
  [80.6,58.1],[81.5,53.4],[82.4,61.6],[83.9,50.7],[84.5,61.5],[85.4,63.3],[86.8,56.3],[83.2,57.1],[88.1,60.2],[90.2,57.3],
  [1,18.5],[95.2,55.4],[6.3,22.4]];
const yvSfG2Core = [[30.4,37.1],[33.2,39.3],[35.9,38.6],[38.7,41.5],[41.4,40.9],[44.2,43.6],[46.9,42.8],[49.7,45.6],[52.4,45.1],[55.2,47.8],[57.9,47.1],[60.7,49.9],[63.4,49.2],[66.2,52.1],[68.9,51.4],[71.7,54.2],[74.4,53.6],[77.2,56.3],[32.1,41.6],[37.6,43.7],[43.1,45.8],[48.6,47.9],[54.1,49.9],[59.6,52.1],[65.1,54.1],[70.6,56.4],[34.6,35.7],[40.1,37.8],[45.6,39.9],[51.1,42.1],[56.6,44.1],[62.1,46.3],[67.6,48.4],[73.1,50.6]];

const panelData = [
  [xuCcaG1.concat(xuCcaG1Core), xuCcaG2.concat(xuCcaG2Core)],
  [xuMfG1.concat(xuMfG1Core), xuMfG2.concat(xuMfG2Core)],
  [xuSfG1.concat(xuSfG1Core), xuSfG2.concat(xuSfG2Core)],
  [yvCcaG1.concat(yvCcaG1Core), yvCcaG2.concat(yvCcaG2Core)],
  [yvMfG1.concat(yvMfG1Core), yvMfG2.concat(yvMfG2Core)],
  [yvSfG1.concat(yvSfG1Core), yvSfG2.concat(yvSfG2Core)],
];

const BLUE = "rgba(0,114,189,0.55)";
const ORANGE = "rgba(217,83,25,0.55)";
const BOX_W = 231, BOX_H = 180;
const PAD = { left: 18, right: 2, top: 2, bottom: 22 };
const boxLefts = [27, 329, 630];
const boxTops = [3, 263];

function drawMathLabel(ctx, x, y, digit, vertical) {
  const fs = 18;
  const parts = [
    ["r", `italic ${fs}px "Liberation Serif", serif`],
    ["=", `${fs}px "Liberation Serif", serif`],
    [digit, `${fs}px "Liberation Serif", serif`],
  ];
  const gap = fs * 0.36;
  const widths = parts.map(([t, f]) => { ctx.font = f; return ctx.measureText(t).width; });
  const total = widths.reduce((a, b) => a + b, 0) + gap * 2;
  ctx.save();
  ctx.translate(x, y);
  if (vertical) ctx.rotate(-Math.PI / 2);
  ctx.fillStyle = "#111";
  ctx.textBaseline = "middle";
  let cx = -total / 2;
  parts.forEach(([t, f], i) => {
    ctx.font = f;
    ctx.fillText(t, cx, 0);
    cx += widths[i] + gap;
  });
  ctx.restore();
}

const framePlugin = {
  id: "frameAndLegend",
  afterDatasetsDraw(chart) {
    const { ctx, chartArea: a } = chart;
    ctx.save();
    ctx.strokeStyle = "#c4c4c4";
    ctx.lineWidth = 1;
    ctx.strokeRect(a.left + 0.5, a.top + 0.5, a.width - 1, a.height - 1);

    const w = 73, h = 35;
    const lx = Math.round(a.right - 2 - w), ly = Math.round(a.top + 2);
    ctx.fillStyle = "#fff";
    ctx.fillRect(lx, ly, w, h);
    ctx.strokeRect(lx + 0.5, ly + 0.5, w, h);
    ctx.font = '13px "Liberation Sans", Arial, sans-serif';
    ctx.textBaseline = "middle";
    chart.data.datasets.forEach((ds, i) => {
      const y = ly + 11.5 + i * 13.5;
      ctx.beginPath();
      ctx.arc(lx + 8, y, 1.7, 0, Math.PI * 2);
      ctx.strokeStyle = ds.borderColor;
      ctx.stroke();
      ctx.fillStyle = "#1a1a1a";
      ctx.fillText(ds.label, lx + 18, y + 0.5);
    });
    ctx.restore();

    drawMathLabel(ctx, (a.left + a.right) / 2, a.bottom + 11, "1", false);
    drawMathLabel(ctx, a.left - 8, (a.top + a.bottom) / 2, "2", true);
  },
};

panelData.forEach((groups, i) => {
  const col = i % 3, row = Math.floor(i / 3);
  const canvas = document.getElementById("c" + i);
  canvas.style.left = (boxLefts[col] - PAD.left) + "px";
  canvas.style.top = (boxTops[row] - PAD.top) + "px";

  new Chart(canvas, {
    type: "scatter",
    data: {
      datasets: groups.map((pts, g) => ({
        label: groupLabels[g],
        data: pts.map(([x, y]) => ({ x, y })),
        borderColor: g === 0 ? BLUE : ORANGE,
        backgroundColor: "rgba(0,0,0,0)",
        pointRadius: 2.1,
        borderWidth: 0.9,
        order: g === 0 ? 1 : 0,
      })),
    },
    options: {
      responsive: false,
      animation: false,
      devicePixelRatio: 1,
      layout: { padding: PAD },
      plugins: { legend: { display: false }, tooltip: { enabled: false } },
      scales: {
        x: { type: "linear", min: 0, max: 100, display: false },
        y: { type: "linear", min: 0, max: 100, display: false },
      },
    },
    plugins: [framePlugin],
  });

  const cap = document.createElement("div");
  cap.className = "cap";
  const [pre, bold, post] = captions[i];
  cap.innerHTML = `${pre}<b>${bold}</b>${post}`;
  cap.style.left = (boxLefts[col] + 110) + "px";
  cap.style.top = (row === 0 ? 220 : 479) + "px";
  document.body.appendChild(cap);
});
</script>
</body>
</html>
